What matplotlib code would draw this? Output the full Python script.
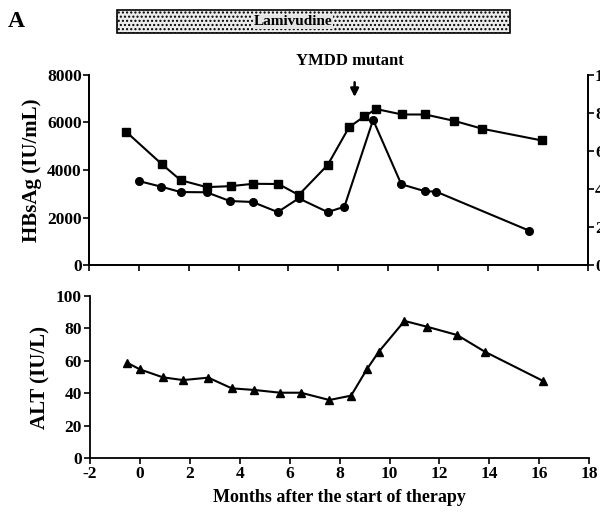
import matplotlib
matplotlib.use("Agg")
import matplotlib.pyplot as plt
from matplotlib.patches import Rectangle

# HBsAg (squares, left axis)
sq_month = [-0.5, 0.92, 1.68, 2.72, 3.68, 4.59, 5.6, 6.41, 7.57, 8.43, 9.04, 9.51, 10.55, 11.48, 12.65, 13.77, 16.15]
sq_hbsag = [5600, 4250, 3570, 3280, 3320, 3420, 3410, 2950, 4210, 5800, 6250, 6560, 6330, 6330, 6060, 5730, 5240]

# circles (right axis, 0-10)
ci_month = [0.0, 0.91, 1.68, 2.72, 3.65, 4.56, 5.57, 6.41, 7.57, 8.24, 9.39, 10.52, 11.45, 11.92, 15.65]
ci_value = [4.42, 4.12, 3.84, 3.83, 3.37, 3.32, 2.79, 3.51, 2.79, 3.07, 7.63, 4.25, 3.89, 3.86, 1.81]

# ALT (triangles)
tr_month = [-0.51, 0.0, 0.92, 1.73, 2.74, 3.68, 4.58, 5.62, 6.45, 7.59, 8.46, 9.09, 9.57, 10.6, 11.51, 12.71, 13.82, 16.16]
tr_alt = [58.8, 54.7, 49.8, 48.1, 49.6, 43.0, 42.0, 40.3, 40.3, 35.8, 38.5, 54.7, 65.6, 84.6, 81.0, 75.9, 65.6, 47.5]

x_ticks = list(range(-2, 19, 2))
mutant_month = 8.65

plt.rcParams.update({"font.family": "Liberation Serif", "font.weight": "bold",
                     "axes.unicode_minus": False, "hatch.color": "#9a9a9a",
                     "axes.linewidth": 1.3, "xtick.major.width": 1.2, "ytick.major.width": 1.2,
                     "xtick.major.size": 4, "ytick.major.size": 4})

fig = plt.figure(figsize=(6.0, 5.19), dpi=100)
ax1 = fig.add_axes([0.148, 0.489, 0.832, 0.367])
ax3 = fig.add_axes([0.150, 0.1175, 0.832, 0.3122])

# --- top panel
ax1.plot(sq_month, sq_hbsag, "k-s", lw=1.5, ms=6, clip_on=False)
ax1.set_xlim(-2, 18)
ax1.set_ylim(0, 8000)
ax1.set_yticks([0, 2000, 4000, 6000, 8000])
ax1.set_xticks(x_ticks)
ax1.set_xticklabels([])
ax1.set_ylabel("HBsAg (IU/mL)", fontsize=15, fontweight="bold", labelpad=4)
ax1.spines["top"].set_visible(False)
ax1.tick_params(labelsize=12.5, pad=1)

ax2 = ax1.twinx()
ax2.plot(ci_month, ci_value, "k-o", lw=1.5, ms=5.5, clip_on=False)
ax2.set_ylim(0, 10)
ax2.set_yticks([0, 2, 4, 6, 8, 10])
ax2.spines["top"].set_visible(False)
ax2.tick_params(labelsize=12.5, pad=1)

ax1.annotate("", xy=(mutant_month, 6950), xytext=(mutant_month, 7800),
             arrowprops=dict(arrowstyle="-|>", color="k", lw=1.8, mutation_scale=12),
             annotation_clip=False)
ax1.text(mutant_month - 0.2, 8250, "YMDD mutant", ha="center", va="bottom",
         fontsize=12, fontweight="bold")

# --- bottom panel
ax3.plot(tr_month, tr_alt, "k-^", lw=1.5, ms=6, clip_on=False)
ax3.set_xlim(-2, 18)
ax3.set_ylim(0, 100)
ax3.set_xticks(x_ticks)
ax3.set_yticks([0, 20, 40, 60, 80, 100])
ax3.set_ylabel("ALT (IU/L)", fontsize=15, fontweight="bold", labelpad=4)
ax3.set_xlabel("Months after the start of therapy", fontsize=13, fontweight="bold", labelpad=5)
ax3.spines["top"].set_visible(False)
ax3.spines["right"].set_visible(False)
ax3.tick_params(labelsize=12.5, pad=2)

# --- treatment bar and panel letter
bar = Rectangle((117 / 600, 1 - 33 / 519), (510 - 117) / 600, 23 / 519, transform=fig.transFigure,
                facecolor="#ececec", edgecolor="k", lw=1.2, hatch="....")
fig.patches.append(bar)
fig.text(293 / 600, 1 - 22 / 519, "Lamivudine", ha="center", va="center", fontsize=11,
         fontweight="bold", bbox=dict(facecolor="#e4e4e4", edgecolor="none", pad=0.5))
fig.text(8 / 600, 1 - 22 / 519, "A", ha="left", va="center", fontsize=17, fontweight="bold")

fig.savefig("out.png", dpi=100)
